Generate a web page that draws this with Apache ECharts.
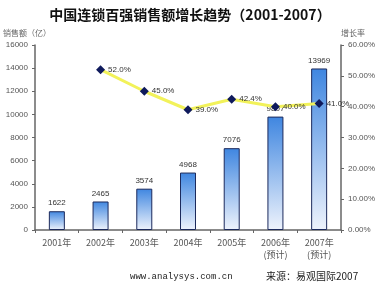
<!DOCTYPE html>
<html><head><meta charset="utf-8">
<script src="https://cdn.jsdelivr.net/npm/echarts@6/dist/echarts.min.js"></script>
<style>html,body{margin:0;padding:0;background:#fff}#c{width:380px;height:286px}</style>
</head><body><div id="c"></div>
<script>
var categories = ['2001年','2002年','2003年','2004年','2005年','2006年\n(预计)','2007年\n(预计)'];
var sales = [1622, 2465, 3574, 4968, 7076, 9807, 13969];
var growth = [null, 52.0, 45.0, 39.0, 42.4, 40.0, 41.0];
var leftTicks = [0, 2000, 4000, 6000, 8000, 10000, 12000, 14000, 16000];
var rightTicks = [0, 10, 20, 30, 40, 50, 60];

var chart = echarts.init(document.getElementById('c'), null, {renderer:'canvas'});
var font = 'Liberation Sans, Arial, sans-serif';
chart.setOption({
  animation:false,
  title:{text:'中国连锁百强销售额增长趋势（2001-2007）', left:'center', top:3,
    textStyle:{fontSize:14, fontWeight:'bold', color:'#111', fontFamily:'Noto Sans CJK SC'}},
  grid:{left:35, right:39, top:45, bottom:56},
  xAxis:{type:'category', data:categories,
    axisLine:{lineStyle:{color:'#666', width:1.5}},
    axisTick:{show:true, length:3, lineStyle:{color:'#666'}},
    axisLabel:{fontSize:9, color:'#555', margin:7, lineHeight:12, fontFamily:'Noto Sans CJK SC'}},
  yAxis:[{type:'value', min:leftTicks[0], max:leftTicks[leftTicks.length-1], interval:2000,
      name:'销售额（亿）', nameLocation:'end', nameGap:8,
      nameTextStyle:{fontSize:8, color:'#666', align:'left', padding:[0,0,0,-32], fontFamily:'Noto Sans CJK SC'},
      axisLine:{show:true, lineStyle:{color:'#666', width:1.5}},
      axisTick:{show:true, length:3, lineStyle:{color:'#666'}},
      splitLine:{show:false},
      axisLabel:{fontSize:8, color:'#555', margin:7, fontFamily:font,
        formatter:function(v){return String(v);}}},
    {type:'value', min:rightTicks[0], max:rightTicks[rightTicks.length-1], interval:10,
      name:'增长率', nameLocation:'end', nameGap:8,
      nameTextStyle:{fontSize:8, color:'#666', align:'left', padding:[0,0,0,0], fontFamily:'Noto Sans CJK SC'},
      axisLine:{show:true, lineStyle:{color:'#666', width:1.5}},
      axisTick:{show:true, length:3, lineStyle:{color:'#666'}},
      splitLine:{show:false},
      axisLabel:{fontSize:8, color:'#555', margin:7, fontFamily:font,
        formatter:function(v){return v.toFixed(2)+'%';}}}],
  series:[{type:'bar', data:sales, barWidth:16,
      itemStyle:{borderColor:'#1c2a5c', borderWidth:1,
        color:new echarts.graphic.LinearGradient(0,0,0,1,[{offset:0,color:'#3f86e0'},{offset:1,color:'#eef3fc'}])},
      label:{show:true, position:'top', fontSize:8, color:'#333', distance:4, fontFamily:font}},
    {type:'line', yAxisIndex:1, data:growth, symbol:'diamond', symbolSize:9,
      lineStyle:{color:'#f2f25a', width:3},
      itemStyle:{color:'#0f1a5c'},
      label:{show:true, position:'right', fontSize:8, color:'#333', distance:3, fontFamily:font,
        formatter:function(p){return p.value.toFixed(1)+'%';}}}],
  graphic:[{type:'text', left:130, top:272, style:{text:'www.analysys.com.cn', fontSize:9, fill:'#222', fontFamily:'Liberation Mono, monospace'}},
    {type:'text', left:266, top:271, style:{text:'来源：易观国际2007', fontSize:10, fill:'#222', fontFamily:'Noto Sans CJK SC'}}]
});
</script></body></html>
